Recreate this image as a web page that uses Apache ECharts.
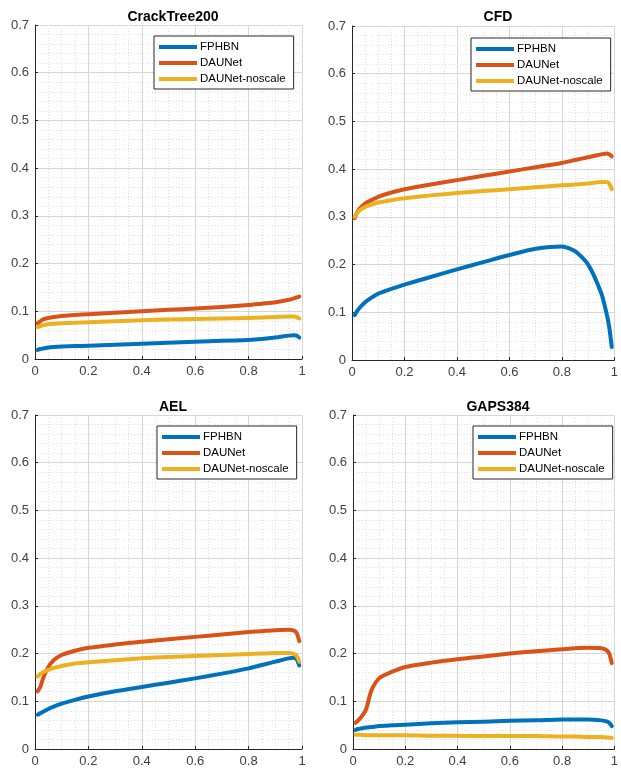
<!DOCTYPE html>
<html>
<head>
<meta charset="utf-8">
<script src="https://cdn.jsdelivr.net/npm/echarts@6/dist/echarts.min.js"></script>
<style>
html,body{margin:0;padding:0;background:#fff;}
#c{width:621px;height:772px;}
</style>
</head>
<body>
<div id="c"></div>
<script>
// Shared recall axis samples
var xs = [0.01,0.02,0.03,0.05,0.07,0.1,0.15,0.2,0.3,0.4,0.5,0.6,0.7,0.8,0.85,0.9,0.95,0.97,0.98,0.99];
var panelTitles = ['CrackTree200','CFD','AEL','GAPS384'];
var seriesNames = ['FPHBN','DAUNet','DAUNet-noscale'];
var xTicks = [0,0.2,0.4,0.6,0.8,1];
var yTicks = [0,0.1,0.2,0.3,0.4,0.5,0.6,0.7];

// CrackTree200
var crackFPHBN   = [0.019,0.021,0.022,0.024,0.025,0.026,0.027,0.028,0.030,0.032,0.034,0.036,0.038,0.040,0.042,0.045,0.049,0.050,0.049,0.045];
var crackDAUNet  = [0.075,0.079,0.083,0.086,0.088,0.090,0.092,0.094,0.097,0.100,0.103,0.106,0.109,0.113,0.116,0.119,0.124,0.127,0.129,0.131];
var crackNoscale = [0.067,0.069,0.071,0.073,0.074,0.075,0.076,0.077,0.079,0.081,0.083,0.084,0.085,0.086,0.087,0.088,0.089,0.089,0.088,0.085];
// CFD
var cfdFPHBN   = [0.094,0.103,0.110,0.121,0.129,0.139,0.149,0.158,0.174,0.190,0.205,0.220,0.233,0.238,0.228,0.200,0.140,0.098,0.070,0.027];
var cfdDAUNet  = [0.297,0.310,0.318,0.328,0.334,0.342,0.351,0.358,0.368,0.377,0.386,0.395,0.404,0.413,0.419,0.425,0.431,0.433,0.431,0.427];
var cfdNoscale = [0.300,0.308,0.314,0.321,0.325,0.330,0.335,0.339,0.345,0.350,0.354,0.358,0.362,0.366,0.368,0.370,0.373,0.373,0.370,0.358];
// AEL
var aelFPHBN   = [0.072,0.075,0.078,0.084,0.089,0.095,0.103,0.110,0.121,0.130,0.139,0.148,0.158,0.169,0.176,0.183,0.190,0.191,0.188,0.175];
var aelDAUNet  = [0.121,0.130,0.148,0.172,0.186,0.197,0.206,0.212,0.219,0.225,0.230,0.235,0.240,0.245,0.247,0.249,0.250,0.248,0.243,0.226];
var aelNoscale = [0.152,0.157,0.161,0.166,0.170,0.174,0.179,0.182,0.186,0.190,0.193,0.195,0.197,0.199,0.200,0.201,0.201,0.199,0.195,0.183];
// GAPS384
var gapsFPHBN   = [0.040,0.042,0.043,0.045,0.046,0.048,0.050,0.051,0.054,0.056,0.057,0.059,0.060,0.062,0.062,0.062,0.060,0.058,0.055,0.048];
var gapsDAUNet  = [0.055,0.060,0.066,0.083,0.122,0.148,0.162,0.172,0.181,0.188,0.194,0.200,0.205,0.209,0.211,0.212,0.211,0.207,0.200,0.180];
var gapsNoscale = [0.030,0.030,0.030,0.029,0.029,0.029,0.029,0.029,0.028,0.028,0.027,0.027,0.027,0.026,0.026,0.025,0.025,0.024,0.024,0.023];

var panelData = [
  [crackFPHBN, crackDAUNet, crackNoscale],
  [cfdFPHBN, cfdDAUNet, cfdNoscale],
  [aelFPHBN, aelDAUNet, aelNoscale],
  [gapsFPHBN, gapsDAUNet, gapsNoscale]
];

var colors = ['#0072BD','#D95319','#EDB120'];
var grids = [
  {left:35, top:25, width:267, height:334},
  {left:352, top:26, width:266, height:334},
  {left:35, top:415, width:267, height:334},
  {left:353, top:415, width:265, height:334}
];
var titlePos = [{x:168,y:5},{x:493,y:5},{x:168,y:395},{x:493,y:395}];
var legendPos = [{x:154,y:36},{x:471,y:38},{x:157,y:426},{x:473,y:426}];

function fmt(v){ return String(Math.round(v*10)/10); }

var option = {
  animation:false,
  backgroundColor:'#fff',
  color: colors,
  title: [], grid: grids, xAxis: [], yAxis: [], legend: [], series: []
};
for (var p=0;p<4;p++){
  option.title.push({
    text: panelTitles[p], left: titlePos[p].x, top: titlePos[p].y, textAlign:'center',
    textStyle:{fontFamily:'Liberation Sans, Arial, sans-serif', fontWeight:'bold', fontSize:14, color:'#000'}
  });
  option.xAxis.push({
    type:'value', gridIndex:p, min:xTicks[0], max:xTicks[xTicks.length-1], interval:0.2,
    axisLine:{show:true, onZero:false, lineStyle:{color:'#262626', width:1}},
    axisTick:{show:true, inside:true, length:3, lineStyle:{color:'#262626'}},
    axisLabel:{color:'#404040', fontSize:13, fontFamily:'Liberation Sans, Arial, sans-serif', margin:6, formatter:fmt},
    splitLine:{show:true, lineStyle:{color:'#d6d6d6', width:1}},
    minorTick:{show:false, splitNumber:4},
    minorSplitLine:{show:true, lineStyle:{color:'#e0e0e0', width:1, type:[1,2]}}
  });
  option.yAxis.push({
    type:'value', gridIndex:p, min:yTicks[0], max:yTicks[yTicks.length-1], interval:0.1,
    axisLine:{show:true, onZero:false, lineStyle:{color:'#262626', width:1}},
    axisTick:{show:true, inside:true, length:3, lineStyle:{color:'#262626'}},
    axisLabel:{color:'#404040', fontSize:13, fontFamily:'Liberation Sans, Arial, sans-serif', margin:6, formatter:fmt},
    splitLine:{show:true, lineStyle:{color:'#d6d6d6', width:1}},
    minorTick:{show:false, splitNumber:5},
    minorSplitLine:{show:true, lineStyle:{color:'#e0e0e0', width:1, type:[1,2]}}
  });
  option.legend.push({
    orient:'vertical', left:legendPos[p].x, top:legendPos[p].y,
    data: seriesNames.slice(), icon:'rect', itemWidth:38, itemHeight:4, itemGap:4,
    padding:[5,8,4,5], backgroundColor:'#fff', borderColor:'#262626', borderWidth:1, borderRadius:0,
    selectedMode:false,
    textStyle:{fontSize:11.5, lineHeight:12, color:'#000', fontFamily:'Liberation Sans, Arial, sans-serif', padding:[0,0,0,-2]}
  });
  for (var s=0;s<3;s++){
    var ys = panelData[p][s];
    var pts = [];
    for (var i=0;i<xs.length;i++) pts.push([xs[i], ys[i]]);
    option.series.push({
      name: seriesNames[s], type:'line', xAxisIndex:p, yAxisIndex:p,
      data: pts, showSymbol:false, symbol:'none', smooth:0.25,
      lineStyle:{color:colors[s], width:4, join:'round', cap:'round'}, itemStyle:{color:colors[s]}, z:2+s
    });
  }
}
var chart = echarts.init(document.getElementById('c'), null, {renderer:'canvas'});
chart.setOption(option);
</script>
</body>
</html>
